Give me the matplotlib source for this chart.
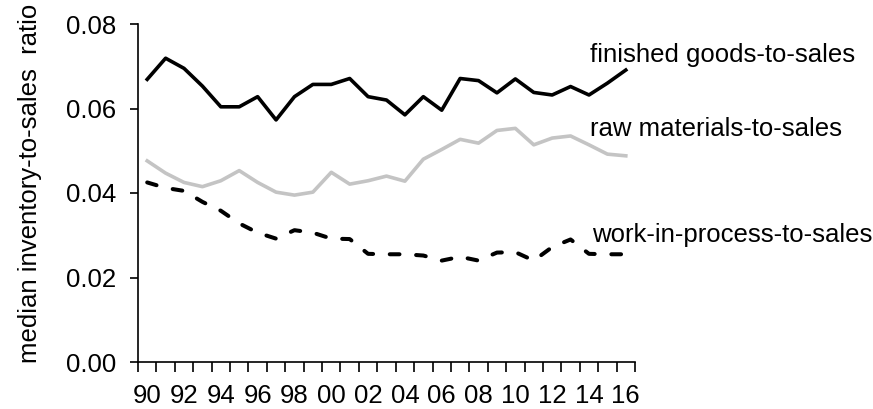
import matplotlib
matplotlib.use('Agg')
import matplotlib.pyplot as plt
import numpy as np

years = list(range(1990, 2017))
year_labels = ["%02d" % (y % 100) for y in years]

finished = [0.0669, 0.0719, 0.0695, 0.0653, 0.0604, 0.0604, 0.0628, 0.0573, 0.0628,
            0.0657, 0.0657, 0.0671, 0.0628, 0.0620, 0.0585, 0.0628, 0.0596, 0.0671,
            0.0666, 0.0637, 0.0670, 0.0638, 0.0632, 0.0652, 0.0632, 0.0660, 0.0691]
raw = [0.0476, 0.0447, 0.0425, 0.0415, 0.0429, 0.0453, 0.0425, 0.0402, 0.0395,
       0.0402, 0.0449, 0.0421, 0.0429, 0.0440, 0.0428, 0.0480, 0.0503, 0.0527,
       0.0518, 0.0548, 0.0553, 0.0514, 0.0530, 0.0535, 0.0514, 0.0492, 0.0488]
wip = [0.0425, 0.0412, 0.0405, 0.0379, 0.0358, 0.0328, 0.0306, 0.0292, 0.0312,
       0.0306, 0.0292, 0.0291, 0.0256, 0.0255, 0.0255, 0.0252, 0.0240, 0.0249,
       0.0240, 0.0259, 0.0260, 0.0240, 0.0272, 0.0290, 0.0256, 0.0255, 0.0255]

plt.rcParams['font.family'] = ['Liberation Sans', 'DejaVu Sans']
plt.rcParams['lines.scale_dashes'] = False
fs = 18.5

fig = plt.figure(figsize=(8.73, 4.09), dpi=100)
ax = fig.add_axes([138/873., 1-362/409., 497/873., 338/409.])

x = np.arange(len(years))
ax.plot(x, finished, color='black', lw=2.6)
ax.plot(x, raw, color='#c4c4c4', lw=2.6)
ax.plot(x, wip, color='black', lw=2.9, dashes=(7, 12), dash_capstyle='round')

ax.set_xlim(-0.5, len(years) - 0.5)
ax.set_ylim(0, 0.08)

# category boundaries as tick marks, labels every other year
ax.set_xticks(np.arange(-0.5, len(years), 1.0))
ax.set_xticklabels([])
ax.set_xticks(x[::2], minor=True)
ax.set_xticklabels(year_labels[::2], minor=True, fontsize=fs)
ax.tick_params(axis='x', which='major', direction='out', length=7, width=1.2)
ax.tick_params(axis='x', which='minor', length=0, pad=16)

ax.set_yticks([0, 0.02, 0.04, 0.06, 0.08])
ax.set_yticklabels(["0.00", "0.02", "0.04", "0.06", "0.08"], fontsize=fs)
ax.tick_params(axis='y', direction='out', length=6, width=1.2, pad=10)

for s in ['top', 'right']:
    ax.spines[s].set_visible(False)
for s in ['left', 'bottom']:
    ax.spines[s].set_linewidth(1.2)

ax.text(24.07, 0.0711, "finished goods-to-sales", fontsize=fs, va='baseline', ha='left')
ax.text(24.07, 0.0535, "raw materials-to-sales", fontsize=fs, va='baseline', ha='left')
ax.text(24.15, 0.0285, "work-in-process-to-sales", fontsize=fs, va='baseline', ha='left')

fig.text(30/873., 1-183/409., "median inventory-to-sales  ratio", rotation=90,
         fontsize=fs, ha='center', va='center')

plt.savefig('out.png', dpi=100)
